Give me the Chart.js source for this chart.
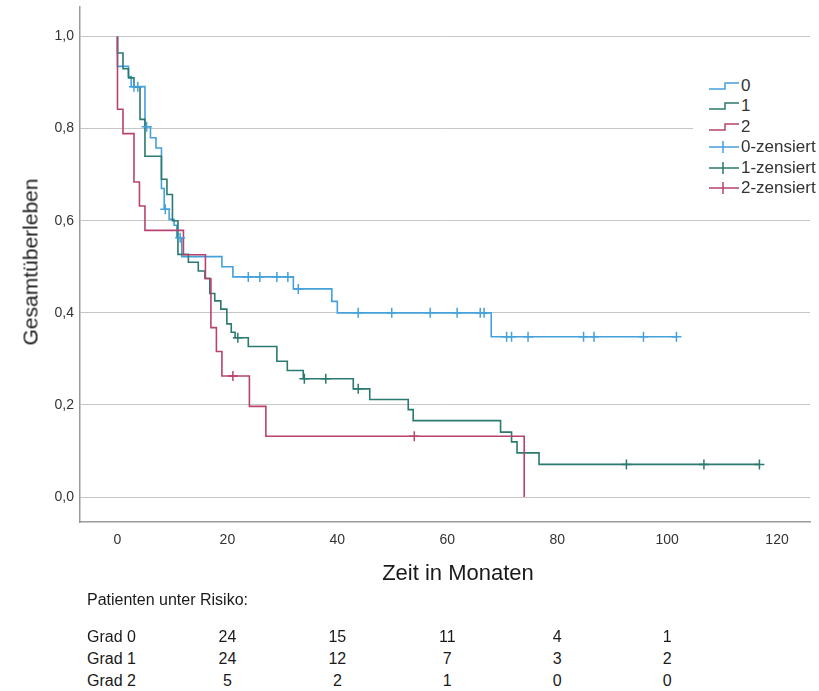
<!DOCTYPE html>
<html><head><meta charset="utf-8">
<script src="https://cdn.jsdelivr.net/npm/chart.js@4.4.1/dist/chart.umd.min.js"></script>
<style>
html,body{margin:0;padding:0;background:#fff;}
#wrap{position:relative;width:819px;height:691px;overflow:hidden;font-family:"Liberation Sans",Arial,sans-serif;color:#1a1a1a;}
#c{position:absolute;left:0;top:0;}
.t{position:absolute;white-space:nowrap;line-height:1;}
#ytitle{left:30px;top:262px;font-size:21px;transform:translate(-50%,-50%) rotate(-90deg);}
#xtitle{left:458px;top:573px;font-size:22px;transform:translate(-50%,-50%);}
#legend{position:absolute;left:693px;top:74px;width:117px;height:126px;background:#fff;}
.lg{position:absolute;left:15px;height:20px;display:flex;align-items:center;font-size:17px;color:#333;white-space:nowrap;}
.lg svg{margin-right:1px;flex:none;}
.num{transform:translate(-50%,-50%);font-size:16px;}
.lab{transform:translateY(-50%);font-size:16px;}
</style></head><body>
<div id="wrap">
<canvas id="c" width="819" height="600"></canvas>
<div id="ytitle" class="t">Gesamtüberleben</div>
<div id="xtitle" class="t">Zeit in Monaten</div>
<div id="legend"></div>
<div id="risk"></div>
</div>
<script>
// ---- data ----
const grade0Times = [0, 0, 2, 2.5, 5, 6, 7, 8, 8.5, 9.4, 10.3, 10.8, 11.7, 19, 21, 32, 39, 40, 68];
const grade0Surv  = [1.0, 0.935, 0.913, 0.891, 0.804, 0.78, 0.758, 0.67, 0.625, 0.603, 0.59, 0.563, 0.522, 0.50, 0.478, 0.452, 0.425, 0.40, 0.348];
const grade0Censored = [3.0, 3.7, 5.3, 8.7, 11.4, 23.8, 25.9, 29.0, 31.0, 32.9, 43.8, 49.9, 56.9, 61.8, 66.0, 66.7, 70.8, 71.7, 74.7, 84.8, 86.7, 95.7, 101.7];

const grade1Times = [0, 0, 1, 2, 3, 4.1, 5, 8, 9, 10, 11, 12.9, 14.7, 15.9, 16.8, 17.7, 18.8, 19.9, 20.7, 21.4, 23.8, 29, 30.9, 33.8, 42.9, 45.9, 52.9, 53.8, 69.7, 71.7, 72.7, 76.7];
const grade1Surv  = [1.0, 0.964, 0.93, 0.91, 0.89, 0.82, 0.74, 0.69, 0.657, 0.60, 0.527, 0.51, 0.491, 0.475, 0.442, 0.426, 0.408, 0.376, 0.358, 0.346, 0.327, 0.295, 0.275, 0.257, 0.235, 0.212, 0.19, 0.166, 0.141, 0.12, 0.096, 0.071];
const grade1Censored = [21.9, 34.0, 37.9, 43.8, 92.6, 106.7, 116.8];

const grade2Times = [0, 0, 1, 3, 4, 5, 12, 16, 17, 18, 19, 24, 27, 74];
const grade2Surv  = [1.0, 0.842, 0.789, 0.684, 0.632, 0.579, 0.526, 0.474, 0.368, 0.316, 0.263, 0.197, 0.132, 0.0];
const grade2Censored = [21, 54];

const groupNames = ['0', '1', '2'];
const censorNames = ['0-zensiert', '1-zensiert', '2-zensiert'];
const colors = ['#45a1dc', '#2a7a6f', '#b8436f'];

const xTicks = [0, 20, 40, 60, 80, 100, 120];
const xTickLabels = ['0', '20', '40', '60', '80', '100', '120'];
const yTicks = [0, 0.2, 0.4, 0.6, 0.8, 1.0];
const yTickLabels = ['0,0', '0,2', '0,4', '0,6', '0,8', '1,0'];

const riskTitle = 'Patienten unter Risiko:';
const riskTimes = [20, 40, 60, 80, 100];
const riskRowLabels = ['Grad 0', 'Grad 1', 'Grad 2'];
const riskGrade0 = [24, 15, 11, 4, 1];
const riskGrade1 = [24, 12, 7, 3, 2];
const riskGrade2 = [5, 2, 1, 0, 0];

// ---- build datasets ----
function survAt(times, surv, t) {
  let v = surv[0];
  for (let i = 0; i < times.length; i++) if (times[i] <= t) v = surv[i];
  return v;
}
function curve(times, surv, cens) {
  const pts = times.map((t, i) => ({x: t, y: surv[i]}));
  const end = Math.max(times[times.length - 1], cens.length ? cens[cens.length - 1] : 0);
  if (end > times[times.length - 1]) pts.push({x: end, y: surv[surv.length - 1]});
  return pts;
}
function marks(times, surv, cens) {
  return cens.map(c => ({x: c, y: survAt(times, surv, c)}));
}
const groups = [
  [grade0Times, grade0Surv, grade0Censored],
  [grade1Times, grade1Surv, grade1Censored],
  [grade2Times, grade2Surv, grade2Censored]
];
const datasets = [];
groups.forEach((g, i) => {
  datasets.push({label: censorNames[i], data: marks(g[0], g[1], g[2]), showLine: false,
    pointStyle: 'cross', pointRadius: 5, pointBorderWidth: 1.5, borderColor: colors[i],
    backgroundColor: colors[i], order: 0});
});
[2, 1, 0].forEach(i => {
  const g = groups[i];
  datasets.push({label: groupNames[i], data: curve(g[0], g[1], g[2]), stepped: 'before',
    borderColor: colors[i], borderWidth: 1.6, pointRadius: 0, fill: false, order: 1 + (2 - i)});
});

const chart = new Chart(document.getElementById('c'), {
  type: 'line',
  data: {datasets},
  options: {
    responsive: false, animation: false, clip: false,
    layout: {padding: {top: 5, right: 9, left: 0, bottom: 0}},
    plugins: {legend: {display: false}, tooltip: {enabled: false}},
    scales: {
      x: {
        type: 'linear', min: -6.82, max: 126,
        afterFit: s => { s.height = 78; s.paddingLeft = 0; s.paddingRight = 0; },
        afterBuildTicks: s => { s.ticks = xTicks.map(v => ({value: v})); },
        ticks: {callback: (v) => xTickLabels[xTicks.indexOf(v)], padding: 10, maxRotation: 0,
          autoSkip: false, color: '#333', font: {family: '"Liberation Sans", Arial', size: 14}},
        grid: {display: false, drawTicks: false},
        border: {display: true, color: '#9a9a9a', width: 1.5}
      },
      y: {
        type: 'linear', min: -0.054, max: 1.065,
        afterFit: s => { s.width = 80; s.paddingTop = 0; s.paddingBottom = 0; },
        afterBuildTicks: s => { s.ticks = yTicks.map(v => ({value: v})); },
        ticks: {callback: (v) => yTickLabels[yTicks.indexOf(v)], padding: 6,
          autoSkip: false, color: '#333', font: {family: '"Liberation Sans", Arial', size: 14}},
        grid: {display: true, drawTicks: false, color: '#c6c6c6', lineWidth: 1},
        border: {display: true, color: '#9a9a9a', width: 1.5}
      }
    }
  }
});

// ---- legend ----
const legend = document.getElementById('legend');
const legendItems = groupNames.map((n, i) => ({text: n, kind: 'step', color: colors[i]}))
  .concat(censorNames.map((n, i) => ({text: n, kind: 'cross', color: colors[i]})));
legendItems.forEach((it, i) => {
  const row = document.createElement('div');
  row.className = 'lg';
  row.style.top = (2 + i * 20.4) + 'px';
  const icon = it.kind === 'step'
    ? `<svg width="32" height="14"><path d="M1 10 H17 V4 H31" fill="none" stroke="${it.color}" stroke-width="1.5"/></svg>`
    : `<svg width="32" height="14"><path d="M1 7 H31 M15 1 V13" fill="none" stroke="${it.color}" stroke-width="1.5"/></svg>`;
  row.innerHTML = icon + '<span>' + it.text + '</span>';
  legend.appendChild(row);
});

// ---- risk table ----
const risk = document.getElementById('risk');
function addText(txt, x, y, cls) {
  const d = document.createElement('div');
  d.className = 't ' + cls;
  d.style.left = x + 'px'; d.style.top = y + 'px';
  d.textContent = txt;
  risk.appendChild(d);
}
addText(riskTitle, 87, 600, 'lab');
const rows = [riskGrade0, riskGrade1, riskGrade2];
const rowY = [637, 659, 681];
rows.forEach((r, ri) => {
  addText(riskRowLabels[ri], 87, rowY[ri], 'lab');
  r.forEach((v, ci) => addText(String(v), chart.scales.x.getPixelForValue(riskTimes[ci]), rowY[ri], 'num'));
});
</script>
</body></html>
